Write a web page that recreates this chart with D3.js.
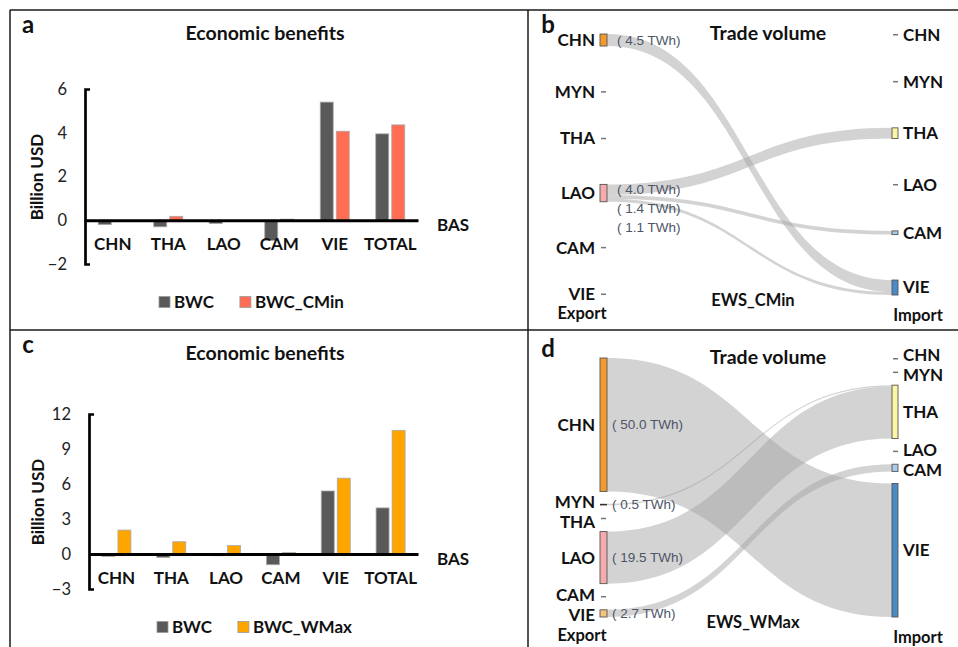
<!DOCTYPE html>
<html>
<head>
<meta charset="utf-8">
<script src="https://cdn.jsdelivr.net/npm/d3@7"></script>
<style>
  body { margin: 0; background: #fff; }
  svg { font-family: Lato, "Open Sans", sans-serif; }
</style>
</head>
<body>
<svg width="958" height="647"></svg>
<script>
// bar data (billion USD)
const countries = ["CHN", "THA", "LAO", "CAM", "VIE", "TOTAL"];
const bwc = [-0.2, -0.3, -0.15, -0.92, 5.4, 3.95];
const bwcCMin = [0, 0.18, 0, 0.05, 4.07, 4.36];
const bwcWMax = [2.05, 1.05, 0.72, 0.12, 6.5, 10.6];
const aTicks = [-2, 0, 2, 4, 6];
const cTicks = [-3, 0, 3, 6, 9, 12];

// trade flows (TWh)
const nodes = ["CHN", "MYN", "THA", "LAO", "CAM", "VIE"];
const cminFrom = ["CHN", "LAO", "LAO", "LAO"];
const cminTo = ["VIE", "THA", "CAM", "VIE"];
const cminTWh = [4.5, 4.0, 1.4, 1.1];
const wmaxFrom = ["CHN", "MYN", "LAO", "VIE"];
const wmaxTo = ["VIE", "THA", "THA", "CAM"];
const wmaxTWh = [50.0, 0.5, 19.5, 2.7];

const svg = d3.select("svg");

// frame
const frame = [[10, 10, 958, 10], [10, 10, 10, 647], [528, 10, 528, 647], [10, 330, 958, 330]];
svg.selectAll("line.frame").data(frame).join("line")
  .attr("class", "frame")
  .attr("x1", d => d[0]).attr("y1", d => d[1])
  .attr("x2", d => d[2]).attr("y2", d => d[3])
  .attr("stroke", "#1a1a1a").attr("stroke-width", 1.5);

function label(g, txt, x, y, size, opts = {}) {
  return g.append("text").text(txt)
    .attr("x", x).attr("y", y).attr("dy", "0.35em")
    .attr("font-size", size)
    .attr("font-weight", opts.weight || "bold")
    .attr("text-anchor", opts.anchor || "middle")
    .attr("fill", opts.fill || "#111");
}

// push label centres apart so that no two are closer than gap
function spread(ys, gap) {
  const out = ys.slice();
  for (let it = 0; it < 20; it++) {
    for (let i = 1; i < out.length; i++) {
      const d = out[i] - out[i - 1];
      if (d < gap) { out[i - 1] -= (gap - d) / 2; out[i] += (gap - d) / 2; }
    }
  }
  return out;
}

function barPanel(o) {
  const g = svg.append("g");
  const y = d3.scaleLinear().domain(o.domain).range(o.yRange);
  const x0 = d3.scaleBand().domain(countries).range([o.axisX, 418]);
  const x1 = d3.scaleBand().domain([0, 1]).range([0, 29]).paddingInner(0.19);
  const series = [bwc, o.second];
  const colors = ["#595959", o.color];

  series.forEach((vals, s) => {
    g.append("g").selectAll("rect").data(vals).join("rect")
      .attr("x", (d, i) => x0(countries[i]) + (x0.bandwidth() - 29) / 2 + x1(s))
      .attr("y", d => y(Math.max(0, d)))
      .attr("width", x1.bandwidth())
      .attr("height", d => Math.abs(y(d) - y(0)))
      .attr("fill", colors[s])
      .attr("stroke", "#a9a9a9").attr("stroke-width", 0.8);
  });

  const ya = g.append("g").attr("transform", `translate(${o.axisX},0)`)
    .call(d3.axisLeft(y).tickValues(o.ticks).tickSizeInner(0).tickSizeOuter(-5).tickPadding(18));
  ya.attr("font-family", null).attr("font-size", 16.5);
  ya.select(".domain").attr("stroke", "#000").attr("stroke-width", 2.7);
  ya.selectAll("text").attr("fill", "#222");

  const xa = g.append("g").attr("transform", `translate(0,${y(0)})`)
    .call(d3.axisBottom(x0).tickSize(0).tickSizeOuter(0).tickPadding(18));
  xa.attr("font-family", null).attr("font-size", 17).attr("font-weight", "bold");
  xa.select(".domain").attr("stroke", "#000").attr("stroke-width", 3);
  xa.selectAll("text").attr("fill", "#111");

  label(g, o.letter, 28, o.top + 15, 24);
  label(g, "Economic benefits", 265, o.top + 23, 19.5);
  label(g, "BAS", 453, y(0) + 5, 17);
  label(g, "Billion USD", 0, 0, 17)
    .attr("transform", `translate(${o.ylabX},${o.ylabY}) rotate(-90)`);

  // legend
  const lg = g.append("g");
  const names = ["BWC", o.name];
  let lx = o.legendX;
  names.forEach((n, i) => {
    lg.append("rect").attr("x", lx).attr("y", o.legendY - 5.5)
      .attr("width", 11).attr("height", 11)
      .attr("fill", colors[i]).attr("stroke", "#9a9a9a").attr("stroke-width", 0.8);
    const t = label(lg, n, lx + 15, o.legendY, 17, { anchor: "start" });
    lx += 15 + t.node().getComputedTextLength() + 26;
  });
}

barPanel({ letter: "a", top: 10, domain: [-2, 6], yRange: [264, 89], ticks: aTicks,
  axisX: 85, second: bwcCMin, color: "#FF6E54", name: "BWC_CMin",
  ylabX: 37, ylabY: 177, legendX: 159, legendY: 302 });
barPanel({ letter: "c", top: 330, domain: [-3, 12], yRange: [589, 414], ticks: cTicks,
  axisX: 89, second: bwcWMax, color: "#FFA500", name: "BWC_WMax",
  ylabX: 38, ylabY: 502, legendX: 157, legendY: 627 });

const leftColors = { CHN: "#F39A2D", MYN: "#333333", LAO: "#F5ABAE", VIE: "#F7C37B" };
const rightColors = { THA: "#FAF6A4", CAM: "#A9CBE8", VIE: "#4A8AC6" };

function sankeyPanel(o) {
  const g = svg.append("g");
  const k = d3.scaleLinear().domain([0, 1]).range([0, 2.67]);
  const links = o.from.map((f, i) => ({ s: nodes.indexOf(f), t: nodes.indexOf(o.to[i]), v: o.twh[i] }));
  const outV = nodes.map((n, i) => d3.sum(links.filter(l => l.s === i), l => l.v));
  const inV = nodes.map((n, i) => d3.sum(links.filter(l => l.t === i), l => l.v));

  function stack(vals) {
    const h = vals.map(v => v > 0 ? Math.max(k(v), 1.6) : 1.5);
    const pad = (o.bottom - o.top - d3.sum(h)) / (vals.length - 1);
    let yy = o.top;
    return h.map((hh, i) => { const r = { y0: yy, y1: yy + hh, v: vals[i] }; yy += hh + pad; return r; });
  }
  const L = stack(outV), R = stack(inV);
  const xL = 600, xR = 892, nw = 7;

  // link offsets on each side
  const sOff = L.map(n => n.y0), tOff = R.map(n => n.y0);
  links.slice().sort((a, b) => a.t - b.t).forEach(l => { l.sy0 = sOff[l.s]; l.sy1 = l.sy0 + k(l.v); sOff[l.s] = l.sy1; });
  links.slice().sort((a, b) => a.s - b.s).forEach(l => { l.ty0 = tOff[l.t]; l.ty1 = l.ty0 + k(l.v); tOff[l.t] = l.ty1; });

  const xs = xL + nw, xt = xR, xm = (xs + xt) / 2;
  g.append("g").selectAll("path").data(links).join("path")
    .attr("d", l => {
      const p = d3.path();
      p.moveTo(xs, l.sy0);
      p.bezierCurveTo(xm, l.sy0, xm, l.ty0, xt, l.ty0);
      p.lineTo(xt, l.ty1);
      p.bezierCurveTo(xm, l.ty1, xm, l.sy1, xs, l.sy1);
      p.closePath();
      return p.toString();
    })
    .attr("fill", "#a3a3a3").attr("fill-opacity", 0.48);

  function drawNodes(arr, x, colors, side) {
    const ly = spread(arr.map(n => (n.y0 + n.y1) / 2), 20);
    arr.forEach((n, i) => {
      const name = nodes[i];
      if (n.v > 0 && colors[name]) {
        g.append("rect").attr("x", x).attr("y", n.y0)
          .attr("width", side === "L" ? nw : 6).attr("height", n.y1 - n.y0)
          .attr("fill", colors[name])
          .attr("stroke", name === "MYN" ? "none" : "#555").attr("stroke-width", 0.9);
      } else {
        g.append("rect").attr("x", x + 1).attr("y", n.y0)
          .attr("width", 5).attr("height", 1.5).attr("fill", "#777");
      }
      if (side === "L") label(g, name, 595, ly[i], 17, { anchor: "end" });
      else label(g, name, 903, ly[i], 17, { anchor: "start" });
    });
  }
  drawNodes(L, xL, leftColors, "L");
  drawNodes(R, xR, rightColors, "R");

  // value labels near the link sources, pushed apart when crowded
  let last = -Infinity;
  links.slice().sort((a, b) => (a.sy0 + a.sy1) - (b.sy0 + b.sy1)).forEach(l => {
    let cy = (l.sy0 + l.sy1) / 2;
    if (cy < last + 19) cy = last + 19;
    last = cy;
    label(g, `( ${l.v.toFixed(1)} TWh)`, o.valX, cy, 13.5, { anchor: "start", weight: "normal", fill: "#4d5566" })
      .attr("font-family", "'Liberation Sans', Arial, sans-serif");
  });

  label(g, o.letter, 548, o.top - 9, 24);
  label(g, "Trade volume", 768, o.top - 1, 19.5);
  label(g, o.scenario, 753, o.bottom + 5, 16.5);
  label(g, "Export", 582, o.bottom + 18, 16.5);
  label(g, "Import", 918, o.bottom + 20, 16.5);
}

sankeyPanel({ letter: "b", top: 34, bottom: 295, from: cminFrom, to: cminTo, twh: cminTWh,
  scenario: "EWS_CMin", valX: 617 });
sankeyPanel({ letter: "d", top: 358, bottom: 617, from: wmaxFrom, to: wmaxTo, twh: wmaxTWh,
  scenario: "EWS_WMax", valX: 612 });
</script>
</body>
</html>
